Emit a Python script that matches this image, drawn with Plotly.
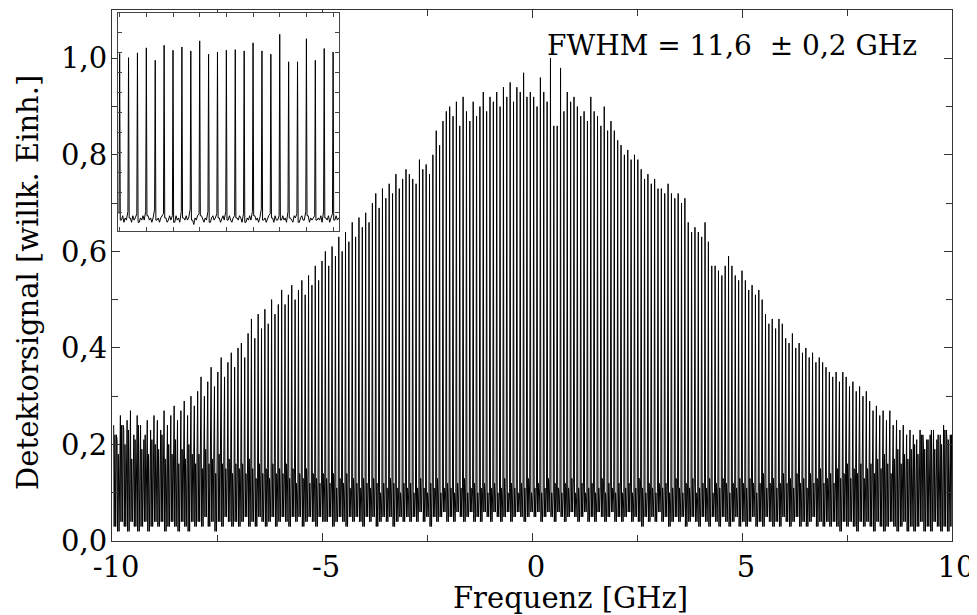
import numpy as np
import plotly.graph_objects as go

# ---------------- main comb ----------------
comb_start = -9.96      # GHz, first comb line
comb_spacing = 0.08     # GHz, line spacing

# peak heights, one row per GHz from -10 to +10
peak_rows = [
    [0.24, 0.21, 0.26, 0.23, 0.25, 0.27, 0.22, 0.26, 0.24, 0.21, 0.25, 0.23, 0.26],
    [0.25, 0.23, 0.27, 0.24, 0.26, 0.28, 0.25, 0.27, 0.29, 0.26, 0.30, 0.28],
    [0.31, 0.34, 0.30, 0.33, 0.36, 0.32, 0.35, 0.38, 0.34, 0.37, 0.39, 0.36, 0.40],
    [0.41, 0.38, 0.43, 0.46, 0.42, 0.47, 0.44, 0.48, 0.45, 0.50, 0.47, 0.49],
    [0.52, 0.49, 0.51, 0.53, 0.50, 0.52, 0.54, 0.51, 0.55, 0.53, 0.57, 0.54, 0.58],
    [0.60, 0.57, 0.61, 0.59, 0.63, 0.60, 0.64, 0.62, 0.66, 0.63, 0.67, 0.65],
    [0.68, 0.66, 0.70, 0.72, 0.69, 0.73, 0.71, 0.74, 0.72, 0.76, 0.73, 0.75, 0.77],
    [0.76, 0.75, 0.74, 0.79, 0.77, 0.78, 0.76, 0.80, 0.85, 0.82, 0.87, 0.89],
    [0.90, 0.88, 0.91, 0.86, 0.92, 0.89, 0.87, 0.91, 0.88, 0.90, 0.93, 0.89, 0.92],
    [0.91, 0.93, 0.90, 0.94, 0.92, 0.95, 0.91, 0.94, 0.93, 0.97, 0.92, 0.93],
    [0.92, 0.90, 0.96, 0.93, 0.91, 1.00, 0.86, 0.86, 0.98, 0.89, 0.93, 0.91, 0.92],
    [0.90, 0.88, 0.89, 0.87, 0.92, 0.89, 0.88, 0.86, 0.90, 0.85, 0.87, 0.85],
    [0.83, 0.82, 0.80, 0.81, 0.79, 0.80, 0.79, 0.77, 0.75, 0.76, 0.74, 0.75, 0.73],
    [0.73, 0.72, 0.74, 0.72, 0.71, 0.72, 0.70, 0.71, 0.66, 0.64, 0.65, 0.64],
    [0.63, 0.66, 0.62, 0.57, 0.57, 0.56, 0.55, 0.57, 0.59, 0.57, 0.55, 0.54, 0.56],
    [0.54, 0.52, 0.53, 0.51, 0.52, 0.50, 0.47, 0.45, 0.46, 0.44, 0.46, 0.45],
    [0.42, 0.41, 0.43, 0.40, 0.41, 0.39, 0.40, 0.38, 0.39, 0.37, 0.38, 0.37, 0.36],
    [0.35, 0.34, 0.35, 0.33, 0.35, 0.34, 0.32, 0.33, 0.31, 0.32, 0.30, 0.31],
    [0.29, 0.27, 0.28, 0.26, 0.27, 0.25, 0.27, 0.24, 0.25, 0.23, 0.24, 0.22, 0.23],
    [0.22, 0.21, 0.23, 0.20, 0.21, 0.22, 0.23, 0.21, 0.22, 0.24, 0.21, 0.22],
]
peak_height = [v for row in peak_rows for v in row]

# upper edge of the noise floor after each line
noise_hi_rows = [
    [0.22, 0.18, 0.24, 0.20, 0.23, 0.17, 0.21, 0.24, 0.19, 0.22, 0.18, 0.21, 0.20],
    [0.19, 0.22, 0.17, 0.20, 0.18, 0.21, 0.16, 0.19, 0.17, 0.20, 0.18, 0.16],
    [0.18, 0.15, 0.19, 0.16, 0.17, 0.14, 0.18, 0.16, 0.15, 0.17, 0.14, 0.16, 0.15],
    [0.16, 0.14, 0.17, 0.15, 0.13, 0.16, 0.14, 0.15, 0.13, 0.16, 0.14, 0.15],
    [0.14, 0.16, 0.13, 0.15, 0.12, 0.14, 0.13, 0.15, 0.12, 0.14, 0.13, 0.12, 0.14],
    [0.13, 0.12, 0.14, 0.11, 0.13, 0.12, 0.14, 0.11, 0.13, 0.12, 0.11, 0.13],
    [0.12, 0.11, 0.13, 0.12, 0.10, 0.12, 0.11, 0.13, 0.12, 0.11, 0.10, 0.12, 0.11],
    [0.12, 0.10, 0.11, 0.13, 0.11, 0.10, 0.12, 0.11, 0.13, 0.10, 0.11, 0.12],
    [0.11, 0.10, 0.12, 0.11, 0.13, 0.10, 0.11, 0.12, 0.10, 0.11, 0.12, 0.10, 0.11],
    [0.12, 0.10, 0.11, 0.13, 0.10, 0.12, 0.11, 0.10, 0.12, 0.11, 0.13, 0.10],
    [0.11, 0.12, 0.10, 0.11, 0.13, 0.10, 0.12, 0.11, 0.10, 0.12, 0.11, 0.13, 0.10],
    [0.11, 0.12, 0.10, 0.11, 0.12, 0.10, 0.11, 0.13, 0.10, 0.12, 0.11, 0.10],
    [0.12, 0.10, 0.11, 0.12, 0.10, 0.11, 0.13, 0.11, 0.10, 0.12, 0.11, 0.10, 0.12],
    [0.11, 0.12, 0.10, 0.11, 0.13, 0.11, 0.10, 0.12, 0.11, 0.13, 0.10, 0.11],
    [0.12, 0.11, 0.13, 0.10, 0.12, 0.11, 0.13, 0.12, 0.10, 0.12, 0.11, 0.13, 0.12],
    [0.11, 0.13, 0.12, 0.10, 0.12, 0.14, 0.11, 0.12, 0.13, 0.11, 0.12, 0.14],
    [0.12, 0.13, 0.11, 0.14, 0.12, 0.13, 0.11, 0.14, 0.12, 0.13, 0.15, 0.12, 0.13],
    [0.14, 0.12, 0.15, 0.13, 0.14, 0.16, 0.13, 0.15, 0.14, 0.16, 0.13, 0.15],
    [0.16, 0.14, 0.17, 0.15, 0.18, 0.16, 0.14, 0.17, 0.19, 0.16, 0.18, 0.17, 0.19],
    [0.20, 0.18, 0.22, 0.19, 0.21, 0.23, 0.19, 0.22, 0.20, 0.23, 0.21, 0.22],
]
noise_hi = [v for row in noise_hi_rows for v in row]

# lower edge of the noise floor after each line
noise_lo_rows = [
    [0.03, 0.02, 0.04, 0.03, 0.02, 0.04, 0.03, 0.02, 0.03, 0.04, 0.02, 0.03, 0.04],
    [0.03, 0.04, 0.02, 0.03, 0.04, 0.03, 0.02, 0.04, 0.03, 0.02, 0.04, 0.03],
    [0.04, 0.03, 0.05, 0.03, 0.04, 0.02, 0.04, 0.03, 0.05, 0.04, 0.03, 0.04, 0.03],
    [0.04, 0.05, 0.03, 0.04, 0.03, 0.05, 0.04, 0.03, 0.04, 0.05, 0.03, 0.04],
    [0.05, 0.04, 0.03, 0.05, 0.04, 0.05, 0.03, 0.04, 0.05, 0.04, 0.03, 0.05, 0.04],
    [0.04, 0.05, 0.03, 0.04, 0.05, 0.04, 0.03, 0.05, 0.04, 0.05, 0.04, 0.03],
    [0.05, 0.04, 0.05, 0.03, 0.04, 0.05, 0.04, 0.05, 0.03, 0.04, 0.05, 0.04, 0.05],
    [0.04, 0.05, 0.04, 0.06, 0.04, 0.05, 0.03, 0.05, 0.04, 0.05, 0.06, 0.04],
    [0.05, 0.04, 0.06, 0.05, 0.04, 0.05, 0.06, 0.04, 0.05, 0.04, 0.06, 0.05, 0.04],
    [0.06, 0.05, 0.04, 0.05, 0.06, 0.04, 0.05, 0.06, 0.05, 0.04, 0.05, 0.06],
    [0.05, 0.06, 0.04, 0.05, 0.06, 0.05, 0.04, 0.06, 0.05, 0.04, 0.05, 0.06, 0.05],
    [0.04, 0.05, 0.06, 0.04, 0.05, 0.04, 0.06, 0.05, 0.04, 0.05, 0.06, 0.04],
    [0.05, 0.04, 0.05, 0.06, 0.04, 0.05, 0.04, 0.03, 0.05, 0.04, 0.05, 0.04, 0.06],
    [0.04, 0.05, 0.03, 0.04, 0.05, 0.04, 0.05, 0.03, 0.04, 0.05, 0.04, 0.03],
    [0.05, 0.04, 0.03, 0.05, 0.04, 0.03, 0.05, 0.04, 0.03, 0.04, 0.05, 0.03, 0.04],
    [0.03, 0.04, 0.05, 0.03, 0.04, 0.03, 0.05, 0.04, 0.03, 0.04, 0.03, 0.05],
    [0.04, 0.03, 0.04, 0.05, 0.03, 0.04, 0.03, 0.04, 0.05, 0.03, 0.04, 0.03, 0.04],
    [0.03, 0.04, 0.03, 0.02, 0.04, 0.03, 0.04, 0.03, 0.02, 0.04, 0.03, 0.04],
    [0.03, 0.02, 0.04, 0.03, 0.02, 0.03, 0.04, 0.03, 0.02, 0.03, 0.04, 0.02, 0.03],
    [0.02, 0.03, 0.04, 0.02, 0.03, 0.02, 0.04, 0.03, 0.02, 0.03, 0.02, 0.03],
]
noise_lo = [v for row in noise_lo_rows for v in row]

# ---------------- inset ----------------
inset_peaks = [0.814, 0.795, 0.817, 0.840, 0.783, 0.852, 0.829, 0.844, 0.826, 0.872,
               0.811, 0.821, 0.829, 0.832, 0.826, 0.863, 0.826, 0.811, 0.902, 0.776,
               0.776, 0.882, 0.783, 0.837, 0.821]
inset_noise = [
    [0.05, 0.07, 0.04, 0.06, 0.05], [0.06, 0.04, 0.07, 0.05, 0.06],
    [0.04, 0.06, 0.05, 0.07, 0.05], [0.07, 0.05, 0.06, 0.04, 0.06],
    [0.05, 0.06, 0.04, 0.06, 0.07], [0.06, 0.04, 0.05, 0.07, 0.05],
    [0.04, 0.07, 0.05, 0.06, 0.04], [0.06, 0.05, 0.07, 0.05, 0.06],
    [0.05, 0.03, 0.06, 0.05, 0.07], [0.07, 0.05, 0.04, 0.06, 0.05],
    [0.04, 0.06, 0.07, 0.05, 0.06], [0.06, 0.04, 0.06, 0.07, 0.05],
    [0.05, 0.07, 0.05, 0.04, 0.06], [0.06, 0.05, 0.07, 0.06, 0.04],
    [0.04, 0.06, 0.05, 0.07, 0.05], [0.07, 0.05, 0.06, 0.04, 0.06],
    [0.05, 0.06, 0.04, 0.06, 0.07], [0.06, 0.04, 0.07, 0.05, 0.05],
    [0.05, 0.07, 0.05, 0.06, 0.04], [0.06, 0.05, 0.04, 0.07, 0.06],
    [0.04, 0.06, 0.07, 0.05, 0.05], [0.07, 0.04, 0.06, 0.05, 0.06],
    [0.05, 0.06, 0.05, 0.07, 0.04], [0.06, 0.05, 0.07, 0.04, 0.06],
    [0.05, 0.07, 0.05, 0.06, 0.05],
]

x_ticks = [-10, -5, 0, 5, 10]
x_labels = ["-10", "-5", "0", "5", "10"]
y_ticks = [0.0, 0.2, 0.4, 0.6, 0.8, 1.0]
y_labels = ["0,0", "0,2", "0,4", "0,6", "0,8", "1,0"]

# ---------------- build traces ----------------
freq = comb_start + comb_spacing * np.arange(len(peak_height))
xs, ys = [], []
for f, h, lo, hi in zip(freq, peak_height, noise_lo, noise_hi):
    xs += [f, f + 0.012, f + 0.030, f + 0.048, f + 0.066]
    ys += [h, lo, hi, lo, hi]

ix, iy = [], []
for i, (h, nz) in enumerate(zip(inset_peaks, inset_noise)):
    x0 = 0.19 + i
    ix += [x0 - 0.07, x0, x0 + 0.07]
    iy += [nz[-1] + 0.03, h, nz[0]]
    for k, v in enumerate(nz):
        ix.append(x0 + 0.2 + 0.14 * k)
        iy.append(v)

fig = go.Figure()
fig.add_trace(go.Scatter(x=xs, y=ys, mode="lines",
                         line=dict(color="black", width=1), hoverinfo="skip",
                         showlegend=False))
fig.add_trace(go.Scatter(x=ix, y=iy, mode="lines", xaxis="x2", yaxis="y2",
                         line=dict(color="black", width=1), hoverinfo="skip",
                         showlegend=False))

font_family = "DejaVu Serif"
fig.update_layout(
    width=969, height=607,
    margin=dict(l=104, r=25, t=2, b=74, autoexpand=False),
    paper_bgcolor="white", plot_bgcolor="white",
    font=dict(family=font_family, size=26, color="black"),
    xaxis=dict(range=[-10, 10], tickvals=x_ticks, ticktext=x_labels,
               ticks="inside", ticklen=8, tickcolor="#333", showline=True,
               linecolor="#333", linewidth=1, mirror="allticks",
               showgrid=False, zeroline=False, ticklabelshift=4,
               ticklabeloverflow="allow", automargin=False,
               minor=dict(tickvals=[-7.5, -2.5, 2.5, 7.5], ticks="inside",
                          ticklen=6, tickcolor="#333"),
               tickfont=dict(size=29)),
    yaxis=dict(range=[0, 1.1], tickvals=y_ticks, ticktext=y_labels,
               ticks="inside", ticklen=8, tickcolor="#333", showline=True,
               linecolor="#333", linewidth=1, mirror="allticks",
               showgrid=False, zeroline=False, ticklabelstandoff=-2,
               automargin=False,
               minor=dict(tickvals=[0.1, 0.3, 0.5, 0.7, 0.9], ticks="inside",
                          ticklen=6, tickcolor="#333"),
               tickfont=dict(size=29)),
    xaxis2=dict(domain=[0.0071, 0.2702], anchor="y2", range=[0, 24.85],
                showticklabels=False, ticks="inside", ticklen=4, tick0=3.2,
                dtick=3, showline=True, linecolor="#444", linewidth=1,
                mirror="ticks", showgrid=False, zeroline=False, automargin=False),
    yaxis2=dict(domain=[0.5838, 0.9944], anchor="x2", range=[0, 1],
                showticklabels=False, ticks="inside", ticklen=4, tick0=0.083,
                dtick=0.0917, showline=True, linecolor="#444", linewidth=1,
                mirror="ticks", showgrid=False, zeroline=False, automargin=False),
    annotations=[
        dict(text="FWHM = 11,6 \u00a0\u00b1 0,2 GHz", xref="paper", yref="paper",
             x=0.738, y=0.934, showarrow=False, xanchor="center", yanchor="middle",
             font=dict(size=28, family=font_family, color="black")),
        dict(text="Frequenz [GHz]", xref="paper", yref="paper",
             x=0.546, y=-0.107, showarrow=False, xanchor="center", yanchor="middle",
             font=dict(size=29, family=font_family, color="black")),
        dict(text="Detektorsignal [willk. Einh.]", xref="paper", yref="paper",
             x=-0.1, y=0.486, showarrow=False, xanchor="center", yanchor="middle",
             textangle=-90,
             font=dict(size=29, family=font_family, color="black")),
    ],
)

fig.write_html("out.html")
